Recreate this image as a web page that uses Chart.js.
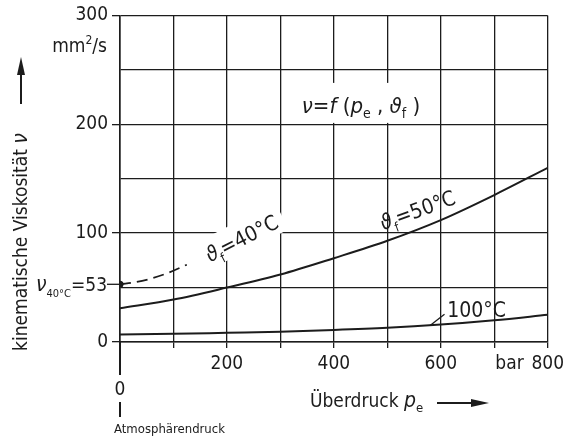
<!DOCTYPE html>
<html>
<head>
<meta charset="utf-8">
<script src="https://cdn.jsdelivr.net/npm/chart.js@4/dist/chart.umd.min.js"></script>
<style>
  html, body { margin: 0; padding: 0; background: #fff; }
  #wrap { width: 569px; height: 440px; }
</style>
</head>
<body>
<div id="wrap"><canvas id="canvas1" width="569" height="440"></canvas></div>
<script>
// pressure in bar, viscosity in mm²/s
var pressure = [0, 100, 200, 300, 400, 500, 600, 700, 800];
var nu50 = [31, 39, 50, 62, 77, 93, 112, 135, 160];
var nu100 = [7, 7.5, 8.5, 9.5, 11, 13, 16, 20, 25];
var pressure40 = [0, 30, 60, 90, 125];
var nu40 = [53, 55, 58.5, 63.5, 71];
var xTicks = [200, 400, 600, 800];
var yTicks = [0, 100, 200, 300];

var INK = '#1c1c1c';
var FONT = '"DejaVu Sans Condensed", "DejaVu Sans", sans-serif';

function pts(xs, ys) {
	return xs.map(function(x, i){ return { x: x, y: ys[i] }; });
}

// draw a row of text pieces (font / vertical shift each) from x,y
function runs(ctx, x, y, parts) {
	var cx = x;
	parts.forEach(function(p){
		ctx.font = p.f;
		ctx.fillText(p.t, cx, y + (p.dy || 0));
		cx += ctx.measureText(p.t).width;
	});
	return cx - x;
}
function runsWidth(ctx, parts) {
	var w = 0;
	parts.forEach(function(p){ ctx.font = p.f; w += ctx.measureText(p.t).width; });
	return w;
}
function arrow(ctx, x1, y1, x2, y2) {
	var a = Math.atan2(y2 - y1, x2 - x1);
	ctx.beginPath();
	ctx.moveTo(x1, y1);
	ctx.lineTo(x2 - 12 * Math.cos(a), y2 - 12 * Math.sin(a));
	ctx.lineWidth = 2;
	ctx.stroke();
	ctx.beginPath();
	ctx.moveTo(x2, y2);
	ctx.lineTo(x2 - 18 * Math.cos(a) + 4 * Math.sin(a), y2 - 18 * Math.sin(a) - 4 * Math.cos(a));
	ctx.lineTo(x2 - 18 * Math.cos(a) - 4 * Math.sin(a), y2 - 18 * Math.sin(a) + 4 * Math.cos(a));
	ctx.closePath();
	ctx.fill();
}

var f21 = '21px ' + FONT, i21 = 'italic 21px ' + FONT, s13 = '13px ' + FONT;
var f22 = '22px ' + FONT, i22 = 'italic 22px ' + FONT, s14 = '14px ' + FONT;
var formula = [
	{ t: 'ν', f: i22 }, { t: '=', f: f22 }, { t: 'f', f: i22 }, { t: ' (', f: f22 },
	{ t: 'p', f: i22 }, { t: 'e', f: s14, dy: 5 }, { t: ' , ', f: f22 },
	{ t: 'ϑ', f: i22 }, { t: 'f', f: s14, dy: 5 }, { t: ' )', f: f22 }
];
var lab40 = [{ t: 'ϑ', f: i21 }, { t: 'f', f: s13, dy: 6 }, { t: '=40°C', f: f21 }];
var lab50 = [{ t: 'ϑ', f: i21 }, { t: 'f', f: s13, dy: 6 }, { t: '=50°C', f: f21 }];

var notes = {
	id: 'notes',
	// white knock-outs in the grid behind the labels
	beforeDatasetsDraw: function(chart){
		var ctx = chart.ctx, x = chart.scales.x, y = chart.scales.y;
		ctx.save();
		ctx.fillStyle = '#fff';
		ctx.fillRect(x.getPixelForValue(335), y.getPixelForValue(238), 122, 40);
		ctx.translate(x.getPixelForValue(228), y.getPixelForValue(95));
		ctx.rotate(-27 * Math.PI / 180);
		ctx.fillRect(-46, -17, 92, 30);
		ctx.restore();
	},
	afterDraw: function(chart){
		var ctx = chart.ctx, x = chart.scales.x, y = chart.scales.y;
		var x0 = x.getPixelForValue(0), y0 = y.getPixelForValue(0);
		ctx.save();
		ctx.fillStyle = INK;
		ctx.strokeStyle = INK;
		ctx.textBaseline = 'alphabetic';

		// unit under the top tick
		var unit = [{ t: 'mm', f: '19px ' + FONT }, { t: '2', f: '12px ' + FONT, dy: -8 }, { t: '/s', f: '19px ' + FONT }];
		runs(ctx, 107 - runsWidth(ctx, unit), 52, unit);

		// y title with arrow
		ctx.save();
		ctx.translate(27, 242);
		ctx.rotate(-Math.PI / 2);
		var yt = [{ t: 'kinematische Viskosität ', f: '19px ' + FONT }, { t: 'ν', f: 'italic 21px ' + FONT }];
		runs(ctx, -runsWidth(ctx, yt) / 2, 0, yt);
		ctx.restore();
		arrow(ctx, 21, 104, 21, 57);

		// formula
		runs(ctx, x.getPixelForValue(340), y.getPixelForValue(210), formula);

		// curve labels
		ctx.save();
		ctx.translate(x.getPixelForValue(228), y.getPixelForValue(95));
		ctx.rotate(-27 * Math.PI / 180);
		runs(ctx, -runsWidth(ctx, lab40) / 2, 7, lab40);
		ctx.restore();
		ctx.save();
		ctx.translate(x.getPixelForValue(557), y.getPixelForValue(121));
		ctx.rotate(-20 * Math.PI / 180);
		runs(ctx, -runsWidth(ctx, lab50) / 2, 7, lab50);
		ctx.restore();

		ctx.lineWidth = 1.3;
		ctx.beginPath();
		ctx.moveTo(x.getPixelForValue(580), y.getPixelForValue(15.2));
		ctx.lineTo(x.getPixelForValue(607), y.getPixelForValue(25.5));
		ctx.stroke();
		ctx.font = f21;
		ctx.fillText('100°C', x.getPixelForValue(612), y.getPixelForValue(23));

		// value of the 40 °C curve at atmospheric pressure
		var yv = y.getPixelForValue(nu40[0]);
		ctx.beginPath();
		ctx.moveTo(x0 - 13, yv);
		ctx.lineTo(x0, yv);
		ctx.stroke();
		var v40 = [{ t: 'ν', f: 'italic 21px ' + FONT }, { t: '40°C', f: '11px ' + FONT, dy: 6 }, { t: '=' + nu40[0], f: '19px ' + FONT }];
		runs(ctx, x0 - 13 - runsWidth(ctx, v40), yv + 7, v40);

		// "bar" before the last x tick, on the tick label line
		ctx.font = '19px ' + FONT;
		ctx.textAlign = 'right';
		ctx.textBaseline = 'middle';
		ctx.fillText('bar', x.getPixelForValue(800) - 24, x.top + 6 + 5 + 19 * 1.2 / 2);

		// atmospheric pressure marker
		ctx.textBaseline = 'alphabetic';
		ctx.textAlign = 'center';
		ctx.lineWidth = 2;
		ctx.beginPath();
		ctx.moveTo(x0, y0);
		ctx.lineTo(x0, y0 + 33);
		ctx.moveTo(x0, y0 + 60);
		ctx.lineTo(x0, y0 + 75);
		ctx.stroke();
		ctx.fillText('0', x0, y0 + 53);
		ctx.textAlign = 'left';
		ctx.font = '13px ' + FONT;
		ctx.fillText('Atmosphärendruck', x0 - 6, y0 + 91);

		// x title with arrow
		var xt = [{ t: 'Überdruck ', f: '19px ' + FONT }, { t: 'p', f: 'italic 21px ' + FONT }, { t: 'e', f: '13px ' + FONT, dy: 5 }];
		runs(ctx, 310, 407, xt);
		arrow(ctx, 437, 403, 489, 403);
		ctx.restore();
	}
};

var grid = function(axis){
	return {
		color: INK,
		lineWidth: 1.3,
		tickLength: axis === 'y' ? 8 : 6,
		tickWidth: 1.3,
		tickColor: function(c){
			var v = c.tick ? c.tick.value : null;
			if (axis === 'y') return yTicks.indexOf(v) >= 0 ? INK : 'rgba(0,0,0,0)';
			return v === 0 ? 'rgba(0,0,0,0)' : INK;
		}
	};
};

new Chart(document.getElementById('canvas1').getContext('2d'), {
	type: 'line',
	data: {
		datasets: [{
			label: '50 °C',
			data: pts(pressure, nu50),
			borderColor: INK,
			borderWidth: 2,
			pointRadius: 0,
			cubicInterpolationMode: 'monotone'
		}, {
			label: '100 °C',
			data: pts(pressure, nu100),
			borderColor: INK,
			borderWidth: 2,
			pointRadius: 0,
			cubicInterpolationMode: 'monotone'
		}, {
			label: '40 °C',
			data: pts(pressure40, nu40),
			borderColor: INK,
			borderWidth: 1.8,
			borderDash: [11, 6],
			pointRadius: function(c){ return c.dataIndex === 0 ? 3.5 : 0; },
			pointBackgroundColor: INK,
			pointBorderWidth: 0,
			cubicInterpolationMode: 'monotone'
		}]
	},
	options: {
		responsive: false,
		devicePixelRatio: 1,
		animation: false,
		events: [],
		layout: { padding: { top: 15, right: 21, left: 0, bottom: 0 } },
		plugins: { legend: { display: false }, tooltip: { enabled: false } },
		scales: {
			x: {
				type: 'linear',
				min: 0,
				max: 800,
				afterFit: function(s){ s.height = 98; },
				border: { color: INK, width: 1.6 },
				grid: grid('x'),
				ticks: {
					stepSize: 100,
					maxRotation: 0,
					autoSkip: false,
					padding: 5,
					color: INK,
					font: { family: FONT, size: 19 },
					callback: function(v){ return xTicks.indexOf(v) >= 0 ? String(v) : ''; }
				}
			},
			y: {
				min: 0,
				max: 300,
				afterFit: function(s){ s.width = 120; },
				border: { color: INK, width: 1.6 },
				grid: grid('y'),
				ticks: {
					stepSize: 50,
					padding: 4,
					color: INK,
					font: { family: FONT, size: 19 },
					callback: function(v){ return yTicks.indexOf(v) >= 0 ? String(v) : ''; }
				}
			}
		}
	},
	plugins: [notes]
});
</script>
</body>
</html>
